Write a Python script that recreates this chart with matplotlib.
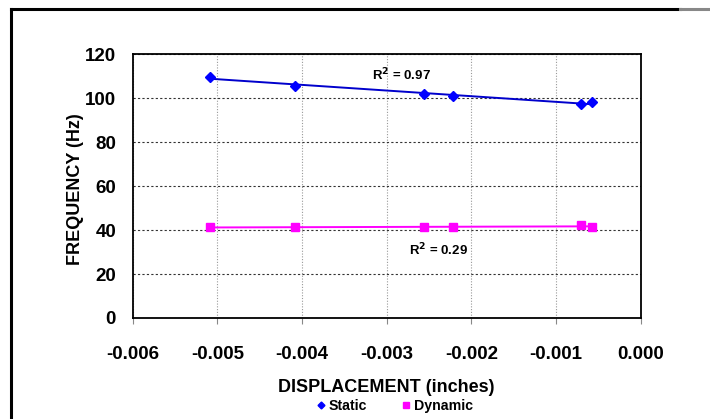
import numpy as np
import matplotlib.pyplot as plt
from matplotlib.lines import Line2D

plt.rcParams['font.family'] = ['Liberation Sans', 'DejaVu Sans']
plt.rcParams['font.weight'] = 'bold'

# data
static_x = [-0.00509, -0.00408, -0.00256, -0.00222, -0.00070, -0.00057]
static_y = [109.8, 105.7, 101.8, 101.0, 97.3, 98.3]
dynamic_x = [-0.00509, -0.00408, -0.00256, -0.00222, -0.00070, -0.00057]
dynamic_y = [41.3, 41.3, 41.4, 41.3, 42.3, 41.3]
r2_labels = ["R$^2$ = 0.97", "R$^2$ = 0.29"]
x_ticks = [-0.006, -0.005, -0.004, -0.003, -0.002, -0.001, 0.000]
y_ticks = [0, 20, 40, 60, 80, 100, 120]

fig = plt.figure(figsize=(7.1, 4.19), dpi=100)
ax = fig.add_axes([0.1869, 0.2411, 0.7155, 0.6293])

# outer chart frame (only left/top visible in the reference)
fig.add_artist(Line2D([0.0155, 0.0155], [0, 0.979], color='black', lw=2.2))
fig.add_artist(Line2D([0.0155, 0.958], [0.979, 0.979], color='black', lw=2.2))
fig.add_artist(Line2D([0.958, 1.0], [0.979, 0.979], color='#888888', lw=2.2))

# trendlines
def trend(x, y, color):
    x = np.array(x)
    k, b = np.polyfit(x, y, 1)
    xs = np.array([x.min(), x.max()])
    ax.plot(xs, k * xs + b, color=color, lw=1.4, zorder=2)

trend(static_x, static_y, '#0000CC')
trend(dynamic_x, dynamic_y, '#FF00FF')

ax.plot(static_x, static_y, 'D', color='#0000FF', ms=5, ls='none', zorder=3)
ax.plot(dynamic_x, dynamic_y, 's', color='#FF00FF', ms=5.5, ls='none', zorder=3)

ax.text(-0.00282, 110.6, r2_labels[0], fontsize=9.5, fontweight='bold', ha='center', va='center')
ax.text(-0.00239, 31, r2_labels[1], fontsize=9.5, fontweight='bold', ha='center', va='center')

ax.set_xlim(-0.006, 0.0)
ax.set_ylim(0, 120)
ax.set_xticks(x_ticks)
ax.set_xticklabels([f"{t:.3f}" for t in x_ticks])
ax.set_yticks(y_ticks)
ax.tick_params(axis='x', labelsize=13.5, length=4, direction='out', pad=16, color='#888888')
ax.tick_params(axis='y', labelsize=13.5, length=0, pad=12)
for lbl in ax.get_xticklabels() + ax.get_yticklabels():
    lbl.set_fontweight('bold')

ax.yaxis.grid(True, ls=(0, (2, 2)), color='#333333', lw=0.8)
ax.xaxis.grid(True, ls=(0, (1, 1.5)), color='#999999', lw=0.8)
ax.set_axisbelow(True)
for s in ax.spines.values():
    s.set_linewidth(1.3)

ax.set_xlabel("DISPLACEMENT (inches)", fontsize=13, fontweight='bold', labelpad=12)
ax.set_ylabel("FREQUENCY (Hz)", fontsize=13, fontweight='bold', va='center')
ax.yaxis.set_label_coords(-0.113, 0.49)

handles = [Line2D([], [], marker='D', color='#0000FF', ls='none', ms=3.5),
           Line2D([], [], marker='s', color='#FF00FF', ls='none', ms=4.5)]
fig.legend(handles, ["Static", "Dynamic"], loc='center', bbox_to_anchor=(0.554, 0.031),
           ncol=2, frameon=False, prop={'size': 10.2, 'weight': 'bold'},
           handletextpad=0.1, columnspacing=2.2, handlelength=1)

fig.savefig("out.png", dpi=100)
